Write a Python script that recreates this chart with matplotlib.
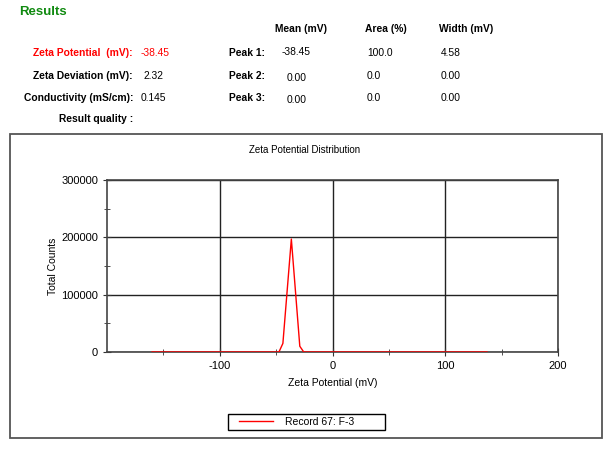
import matplotlib.pyplot as plt
from matplotlib.patches import Rectangle
from matplotlib.legend_handler import HandlerLine2D

plt.rcParams['font.family'] = ['Liberation Sans', 'DejaVu Sans']
plt.rcParams['axes.unicode_minus'] = False

# distribution curve
zeta_mv = [-160, -47.5, -44, -36.5, -29, -25.5, 137]
counts = [0, 0, 15000, 197000, 10000, 0, 0]

x_ticks = [-100, 0, 100, 200]
x_minor = [-150, -50, 50, 150]
y_ticks = [0, 100000, 200000, 300000]
y_minor = [50000, 150000, 250000]

# header table
col_heads = ['Mean (mV)', 'Area (%)', 'Width (mV)']
left_labels = ['Zeta Potential  (mV):', 'Zeta Deviation (mV):',
               'Conductivity (mS/cm):', 'Result quality :']
left_values = ['-38.45', '2.32', '0.145', '']
peak_names = ['Peak 1:', 'Peak 2:', 'Peak 3:']
peak_mean = ['-38.45', '0.00', '0.00']
peak_area = ['100.0', '0.0', '0.0']
peak_width = ['4.58', '0.00', '0.00']

W, H = 615, 451
fig = plt.figure(figsize=(W / 100, H / 100), dpi=100)
fs = 7.4


def px(x, y):
    return x / W, 1 - y / H


def put(x, y, s, **kw):
    fx, fy = px(x, y)
    fig.text(fx, fy, s, va='center', **kw)


put(19, 12, 'Results', color='#108a10', fontsize=9.5, fontweight='bold')

for x, s in zip([301, 386, 466], col_heads):
    put(x, 29, s, ha='center', fontsize=fs, fontweight='bold')

rows_y = [53, 76, 98, 119]
for i, (lab, val) in enumerate(zip(left_labels, left_values)):
    col = 'red' if i == 0 else 'black'
    put(133, rows_y[i], lab, ha='right', fontsize=fs, fontweight='bold', color=col)
    if val:
        put(141 if i != 1 else 143, rows_y[i], val, ha='left', fontsize=fs, color=col)

for i, name in enumerate(peak_names):
    y = rows_y[i]
    put(265, y, name, ha='right', fontsize=fs, fontweight='bold')
    put(282 if i == 0 else 287, y - 1 if i == 0 else y + 2, peak_mean[i], ha='left', fontsize=fs)
    put(367, y, peak_area[i], ha='left', fontsize=fs)
    put(441, y, peak_width[i], ha='left', fontsize=fs)

# chart frame
x0, y0 = px(10, 438)
x1, y1 = px(602, 134)
fig.patches.append(Rectangle((x0, y0), x1 - x0, y1 - y0, transform=fig.transFigure,
                             fill=False, edgecolor='#555555', linewidth=1.3))
put(305, 150, 'Zeta Potential Distribution', ha='center', fontsize=7)

l, b = px(107, 352)
r, t = px(558, 180)
ax = fig.add_axes([l, b, r - l, t - b])
line, = ax.plot(zeta_mv, counts, color='red', linewidth=1, label='Record 67: F-3', zorder=3)
ax.set_xlim(-200, 200)
ax.set_ylim(0, 300000)
ax.set_xticks(x_ticks)
ax.set_xticks(x_minor, minor=True)
ax.set_yticks(y_ticks)
ax.set_yticks(y_minor, minor=True)
ax.set_yticklabels([str(v) for v in y_ticks])
ax.tick_params(which='both', direction='inout', labelsize=8, color='#333333')
ax.tick_params(which='major', length=6)
ax.tick_params(which='minor', length=5)
ax.grid(True, which='major', color='#222222', linewidth=1)
for s in ax.spines.values():
    s.set_color('#444444')
    s.set_linewidth(1.2)
ax.set_xlabel('Zeta Potential (mV)', fontsize=7.5, labelpad=5)
ax.set_ylabel('Total Counts', fontsize=7.5, labelpad=2)

lx, ly = px(228, 430)
lw, lh = 157 / W, 16 / H
ax.legend(loc='lower left', bbox_to_anchor=(lx, ly, lw, lh), bbox_transform=fig.transFigure,
          mode='expand', fancybox=False, edgecolor='black', fontsize=7.5, handlelength=4.0,
          borderpad=0.3, handletextpad=1.15, borderaxespad=0, framealpha=1,
          handler_map={line: HandlerLine2D(xpad=0.77)})
ax.get_legend().get_frame().set_linewidth(1)

fig.savefig('out.png', dpi=100)
